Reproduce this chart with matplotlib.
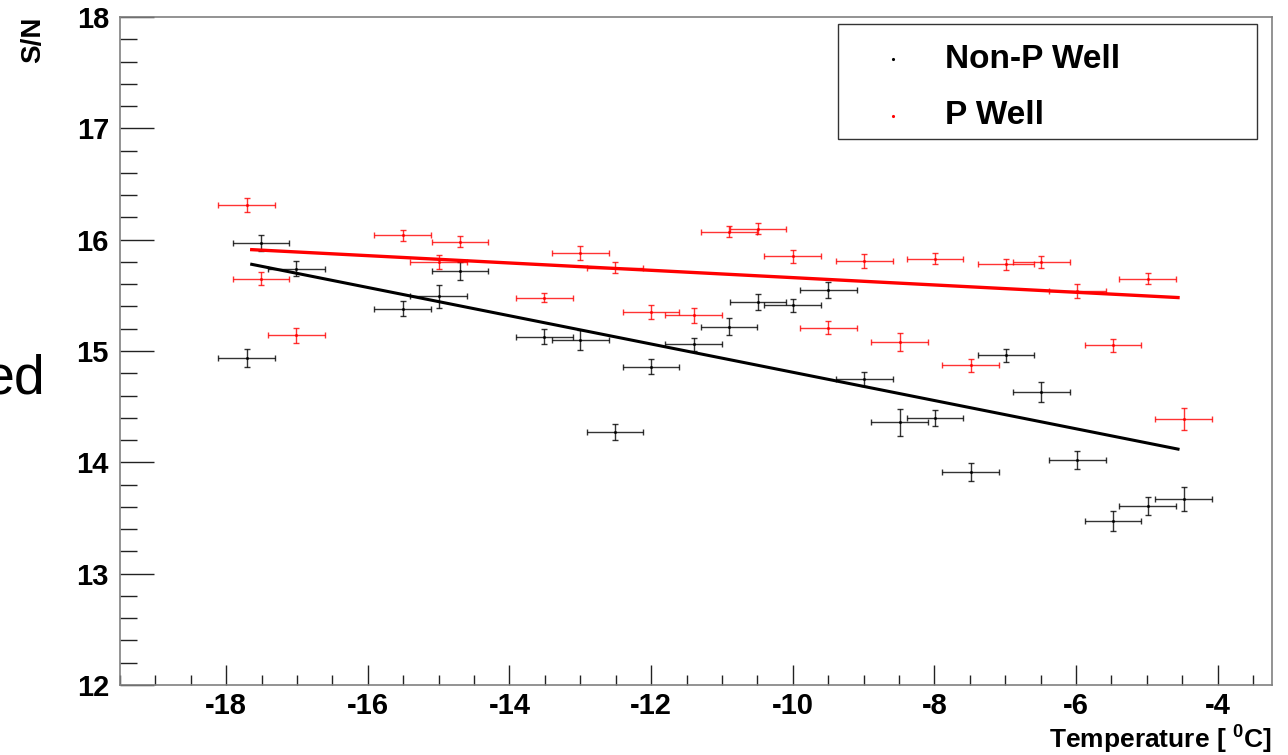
import numpy as np
import matplotlib
matplotlib.use("Agg")
import matplotlib.pyplot as plt
from matplotlib.patches import Rectangle
from matplotlib.lines import Line2D
from matplotlib.ticker import MultipleLocator

plt.rcParams['font.family'] = ['Liberation Sans', 'DejaVu Sans']
plt.rcParams['mathtext.fontset'] = 'custom'
plt.rcParams['mathtext.bf'] = 'Liberation Sans:bold'
plt.rcParams['mathtext.rm'] = 'Liberation Sans:bold'
plt.rcParams['axes.unicode_minus'] = False

# temperature points (same for both wells), x error is the same everywhere
temp = [-17.71, -17.51, -17.01, -15.51, -15.0, -14.70, -13.51, -13.0, -12.51,
        -12.0, -11.40, -10.90, -10.49, -10.0, -9.50, -8.99, -8.49, -7.99,
        -7.49, -6.99, -6.49, -5.98, -5.48, -4.99, -4.48]
temp_err = 0.4

sn_nonp = [14.94, 15.97, 15.74, 15.38, 15.49, 15.72, 15.13, 15.10, 14.27,
           14.86, 15.06, 15.22, 15.44, 15.41, 15.55, 14.75, 14.36, 14.40,
           13.91, 14.96, 14.63, 14.02, 13.47, 13.61, 13.67]
sn_nonp_err = [0.08, 0.07, 0.07, 0.07, 0.10, 0.08, 0.07, 0.09, 0.07,
               0.07, 0.06, 0.08, 0.07, 0.06, 0.07, 0.06, 0.12, 0.07,
               0.08, 0.06, 0.09, 0.08, 0.09, 0.08, 0.11]

sn_p = [16.31, 15.65, 15.14, 16.04, 15.80, 15.98, 15.48, 15.88, 15.75,
        15.35, 15.32, 16.07, 16.10, 15.85, 15.21, 15.81, 15.08, 15.83,
        14.87, 15.78, 15.80, 15.54, 15.05, 15.65, 14.39]
sn_p_err = [0.06, 0.06, 0.07, 0.05, 0.06, 0.05, 0.04, 0.06, 0.05,
            0.06, 0.07, 0.05, 0.05, 0.06, 0.06, 0.06, 0.08, 0.05,
            0.06, 0.05, 0.05, 0.06, 0.06, 0.05, 0.10]

# linear fits (slope, intercept) and fit range
fit_nonp = (-0.1269, 13.54)
fit_p = (-0.0329, 15.33)
fit_range = (-17.64, -4.56)

fig = plt.figure(figsize=(12.88, 7.55), dpi=100)
ax = fig.add_axes([120/1288, 1-685/755, (1271.5-120)/1288, (685-17)/755])

ax.errorbar(temp, sn_nonp, xerr=temp_err, yerr=sn_nonp_err, fmt='.', color='black',
            markersize=2.5, elinewidth=1.0, capsize=2, capthick=1.0, alpha=0.8)
ax.errorbar(temp, sn_p, xerr=temp_err, yerr=sn_p_err, fmt='.', color='#ff0000',
            markersize=2.5, elinewidth=1.0, capsize=2, capthick=1.0, alpha=0.8)

xf = np.linspace(fit_range[0], fit_range[1], 50)
ax.plot(xf, fit_nonp[0]*xf + fit_nonp[1], color='black', lw=2.2)
ax.plot(xf, fit_p[0]*xf + fit_p[1], color='#ff0000', lw=2.4)

ax.set_xlim(-19.5, -3.24)
ax.set_ylim(12, 18)
ax.xaxis.set_major_locator(MultipleLocator(2))
ax.xaxis.set_minor_locator(MultipleLocator(0.5))
ax.yaxis.set_major_locator(MultipleLocator(1))
ax.yaxis.set_minor_locator(MultipleLocator(0.2))
ax.tick_params(axis='both', which='both', direction='in', colors='#222222',
               top=False, right=False, labelsize=21)
ax.tick_params(axis='x', which='major', length=14.4, width=1.0, pad=5)
ax.tick_params(axis='x', which='minor', length=7.2, width=1.0)
ax.tick_params(axis='y', which='major', length=24.5, width=1.0, pad=8)
ax.tick_params(axis='y', which='minor', length=12.2, width=1.0)
for lab in ax.get_xticklabels() + ax.get_yticklabels():
    lab.set_fontweight('bold')
    lab.set_color('black')
for sp in ax.spines.values():
    sp.set_color('#808080')
    sp.set_linewidth(1.2)

fig.text(1272/1288, 1-748/755, r'Temperature [ $^{0}$C]', ha='right', va='baseline',
         fontsize=19, fontweight='bold')
fig.text(33/1288, 1-17/755, 'S/N', rotation=90, ha='center', va='top',
         fontsize=20, fontweight='bold')
fig.text(45/1288, 1-394/755, 'ed', ha='right', va='baseline', fontsize=40)

# legend box
fig.patches.append(Rectangle((838/1288, 1-139/755), (1257-838)/1288, (139-24)/755,
                             transform=fig.transFigure, facecolor='white',
                             edgecolor='#333333', lw=1.0, zorder=5))
legend_items = [('Non-P Well', 'black', 59), ('P Well', '#ff0000', 116)]
for lab, col, ypix in legend_items:
    fig.lines.append(Line2D([893/1288], [1-ypix/755], marker='.', markersize=2.5,
                            color=col, transform=fig.transFigure, zorder=6))
    fig.text(945/1288, 1-ypix/755, lab, ha='left', va='center', fontsize=24,
             fontweight='bold', zorder=6)

fig.savefig('out.png', dpi=100)
